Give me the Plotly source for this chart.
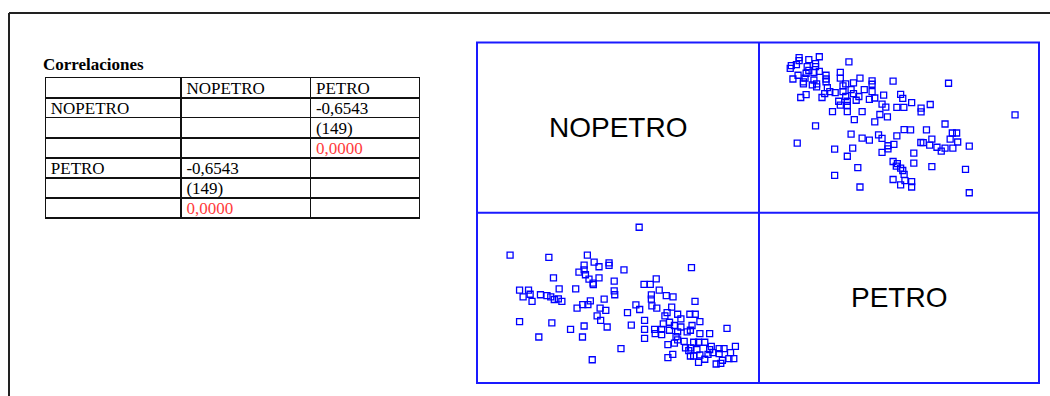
import plotly.graph_objects as go

# ---- data ----
nopetro = [57.8, 10.2, 24.5, 38.7, 37.5, 41.2, 43.0, 46.7, 46.7, 52.2,
           35.6, 37.5, 38.0, 26.2, 39.3, 43.0, 40.8, 40.9, 48.6, 77.1,
           64.1, 59.6, 61.9, 13.7, 17.0, 17.6, 15.0, 18.3, 21.4, 23.8,
           25.2, 26.5, 28.0, 29.3, 28.3, 34.4, 48.6, 48.8, 44.9, 39.8,
           38.9, 37.0, 34.9, 43.4, 45.5, 42.3, 43.6, 65.2, 62.3, 62.3,
           67.8, 70.3, 78.4, 56.6, 58.0, 62.5, 64.3, 69.8, 53.5, 13.7,
           25.6, 37.5, 32.5, 46.0, 54.9, 59.8, 20.8, 36.9, 59.8, 59.8,
           51.1, 40.5, 90.2, 63.5, 66.1, 63.7, 66.1, 67.3, 68.1, 72.0,
           73.2, 76.5, 66.7, 69.0, 70.8, 73.2, 69.0, 72.0, 75.5, 71.4,
           72.0, 68.4, 70.8, 74.4, 74.9, 76.1, 70.2, 68.4, 78.5, 80.2,
           77.3, 76.7, 80.2, 83.8, 77.9, 79.7, 82.0, 84.4, 76.7, 79.1,
           83.8, 87.3, 89.1, 93.3, 91.5, 77.9, 80.2, 83.2, 85.0, 87.3,
           90.9, 92.7, 88.5, 82.0, 79.7, 86.2, 87.9, 76.7]
petro = [93.1, 76.1, 74.7, 76.1, 70.0, 71.8, 69.0, 71.4, 69.8, 67.1,
         65.7, 67.1, 64.1, 62.2, 61.4, 62.2, 59.0, 58.1, 60.2, 68.4,
         61.6, 58.2, 58.2, 54.7, 54.7, 52.2, 50.6, 47.8, 51.9, 51.4,
         50.6, 49.0, 49.4, 47.8, 55.5, 55.5, 54.3, 51.9, 49.2, 48.1,
         45.9, 45.9, 43.7, 43.7, 42.4, 39.0, 36.3, 54.7, 51.8, 49.2,
         51.4, 50.6, 47.8, 45.7, 42.9, 45.1, 43.7, 44.3, 41.0, 35.5,
         34.7, 32.8, 30.8, 32.2, 33.4, 36.3, 26.1, 26.1, 30.8, 25.3,
         19.0, 12.2, 31.4, 30.8, 30.8, 28.2, 27.6, 39.0, 41.0, 40.0,
         37.1, 40.0, 34.1, 35.1, 33.1, 32.2, 30.2, 29.2, 29.2, 26.3,
         24.3, 21.4, 22.4, 23.4, 19.4, 17.8, 15.5, 13.5, 40.0, 35.5,
         33.1, 30.2, 28.2, 28.2, 22.9, 22.9, 22.9, 20.4, 19.4, 18.4,
         18.4, 19.0, 19.0, 20.4, 16.5, 14.5, 15.1, 15.5, 16.5, 15.9,
         12.9, 12.9, 11.9, 12.5, 10.6, 9.6, 10.0, 14.5]

variables = ["NOPETRO", "PETRO"]
table_title = "Correlaciones"
corr_value = "-0,6543"
corr_n = "(149)"
corr_p = "0,0000"

BLUE = "#0000ff"
FRAME_BLUE = "#1a1aff"
RED = "#ff3b3b"
W, H = 1050, 396

def px(x):
    return x / W

def py(y):
    return 1 - y / H

fig = go.Figure()

# ---- correlation table ----
col0 = [variables[0], "", "", variables[1], "", ""]
col1 = ["", "", "", corr_value, corr_n, corr_p]
col2 = [corr_value, corr_n, corr_p, "", "", ""]
header_vals = ["", variables[0], variables[1]]
colwidths = [135.4, 129.3, 108.7]

def colors(col):
    return [RED if v == corr_p else "black" for v in col]

TFONT = "Liberation Serif"
# grid (lines only)
fig.add_trace(go.Table(
    domain=dict(x=[px(45.3), px(419.5)], y=[py(330), py(77.7)]),
    columnwidth=colwidths,
    header=dict(values=["", "", ""], fill_color="white",
                line=dict(color="#111111", width=1.6), height=20),
    cells=dict(values=[[""] * 6] * 3, fill_color="white",
               line=dict(color="#111111", width=1.6), height=20),
))
# text layer (transparent), nudged to match the reference text placement
dx, dy = -2.5, -4.5
fig.add_trace(go.Table(
    domain=dict(x=[px(45.3 + dx), px(419.5 + dx)], y=[py(330 + dy), py(77.7 + dy)]),
    columnwidth=colwidths,
    header=dict(values=header_vals, fill_color="rgba(0,0,0,0)",
                line=dict(color="rgba(0,0,0,0)", width=0),
                align="left", height=20,
                font=dict(family=TFONT, size=17, color="black")),
    cells=dict(values=[col0, col1, col2], fill_color="rgba(0,0,0,0)",
               line=dict(color="rgba(0,0,0,0)", width=0),
               align="left", height=20,
               font=dict(family=TFONT, size=17,
                         color=[colors(col0), colors(col1), colors(col2)])),
))

# ---- scatter matrix ----
xl, xm, xr = px(477), px(759), px(1039)
yt, ym, yb = py(42.5), py(212.7), py(383)

cells = {
    1: ([xl, xm], [ym, yt]),   # top-left  (diag NOPETRO)
    2: ([xm, xr], [ym, yt]),   # top-right (x=PETRO, y=NOPETRO)
    3: ([xl, xm], [yb, ym]),   # bottom-left (x=NOPETRO, y=PETRO)
    4: ([xm, xr], [yb, ym]),   # bottom-right (diag PETRO)
}
axis_style = dict(showgrid=False, zeroline=False, showticklabels=False,
                  ticks="", showline=False, range=[-2, 102], fixedrange=True)
for i, (dxd, dyd) in cells.items():
    s = "" if i == 1 else str(i)
    fig.layout["xaxis" + s] = dict(domain=dxd, anchor="y" + s, **axis_style)
    fig.layout["yaxis" + s] = dict(domain=dyd, anchor="x" + s, **axis_style)

marker = dict(symbol="square-open", size=6, color=BLUE,
              line=dict(color=BLUE, width=1.3))
# empty traces so the diagonal cells get their axes
fig.add_trace(go.Scatter(x=[None], y=[None], mode="markers", xaxis="x", yaxis="y",
                         hoverinfo="skip"))
fig.add_trace(go.Scatter(x=[None], y=[None], mode="markers", xaxis="x4", yaxis="y4",
                         hoverinfo="skip"))
fig.add_trace(go.Scatter(x=petro, y=nopetro, mode="markers", marker=marker,
                         xaxis="x2", yaxis="y2", hoverinfo="x+y"))
fig.add_trace(go.Scatter(x=nopetro, y=petro, mode="markers", marker=marker,
                         xaxis="x3", yaxis="y3", hoverinfo="x+y"))

for name, s in ((variables[0], ""), (variables[1], "4")):
    fig.add_annotation(text=name, x=0.5, y=0.5,
                       xref=("x" + s + " domain"), yref=("y" + s + " domain"),
                       showarrow=False,
                       font=dict(family="Liberation Sans", size=28, color="black"))

# matrix frame and dividers
fig.add_shape(type="rect", xref="paper", yref="paper",
              x0=xl, x1=xr, y0=yb, y1=yt, line=dict(color=FRAME_BLUE, width=2))
fig.add_shape(type="line", xref="paper", yref="paper",
              x0=xm, x1=xm, y0=yb, y1=yt, line=dict(color=FRAME_BLUE, width=2))
fig.add_shape(type="line", xref="paper", yref="paper",
              x0=xl, x1=xr, y0=ym, y1=ym, line=dict(color=FRAME_BLUE, width=2))

fig.add_annotation(text="<b>" + table_title + "</b>", x=px(41), y=py(76.5),
                   xref="paper", yref="paper", xanchor="left", yanchor="bottom",
                   showarrow=False,
                   font=dict(family=TFONT, size=17, color="black"))

# outer page frame
fig.add_shape(type="line", xref="paper", yref="paper",
              x0=px(9), x1=1.0, y0=py(13), y1=py(13),
              line=dict(color="#222222", width=2))
fig.add_shape(type="line", xref="paper", yref="paper",
              x0=px(9), x1=px(9), y0=py(13), y1=0,
              line=dict(color="#222222", width=2))

fig.update_layout(width=W, height=H, margin=dict(l=0, r=0, t=0, b=0),
                  paper_bgcolor="white", plot_bgcolor="white",
                  showlegend=False)

fig.write_html("out.html")
